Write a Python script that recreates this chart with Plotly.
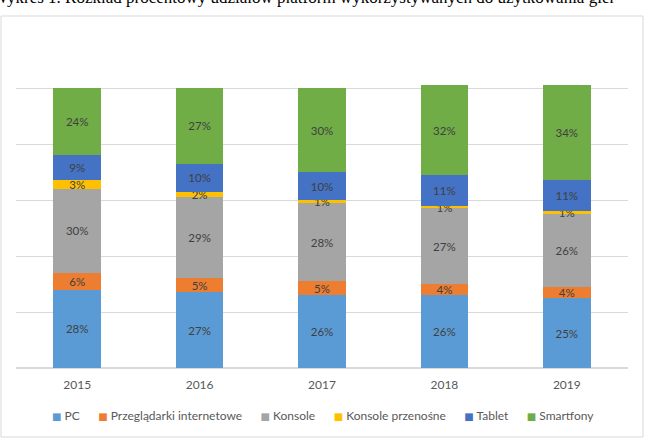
import plotly.graph_objects as go

years = ["2015", "2016", "2017", "2018", "2019"]
pc = [28, 27, 26, 26, 25]
przegladarki = [6, 5, 5, 4, 4]
konsole = [30, 29, 28, 27, 26]
konsole_przenosne = [3, 2, 1, 1, 1]
tablet = [9, 10, 10, 11, 11]
smartfony = [24, 27, 30, 32, 34]

series_names = ["PC", "Przeglądarki internetowe", "Konsole", "Konsole przenośne", "Tablet", "Smartfony"]
series_values = [pc, przegladarki, konsole, konsole_przenosne, tablet, smartfony]
series_colors = ["#5B9BD5", "#ED7D31", "#A5A5A5", "#FFC000", "#4472C4", "#70AD47"]

FONT = "Lato, 'Open Sans', sans-serif"

fig = go.Figure()
for name, vals, col in zip(series_names, series_values, series_colors):
    fig.add_trace(go.Bar(
        x=years, y=vals, name=name,
        marker=dict(color=col, line=dict(width=0)),
        text=[f"{v}%" for v in vals],
        textposition="inside", insidetextanchor="middle",
        textangle=0, constraintext="none",
        textfont=dict(family=FONT, size=11.5, color="#404040"),
        hoverinfo="skip",
    ))

L, R, T, B = 16, 18, 32, 79
W, H = 646, 447
pw, ph = W - L - R, H - T - B

def px(x):
    return (x - L) / pw

def py(y):
    return (H - B - y) / ph

gap = "&nbsp;" * 6
legend_text = gap.join(
    f"<span style='color:{c}; font-family:DejaVu Sans; font-size:10px'>■</span>&nbsp;{n}"
    for n, c in zip(series_names, series_colors)
)

fig.update_layout(
    width=W, height=H,
    margin=dict(l=L, r=R, t=T, b=B, autoexpand=False),
    barmode="stack", bargap=0.61,
    plot_bgcolor="white", paper_bgcolor="white",
    font=dict(family=FONT, color="#595959", size=12),
    xaxis=dict(showgrid=False, showline=False, ticks="", ticklabelstandoff=8,
               tickfont=dict(family=FONT, size=12, color="#595959"), fixedrange=True),
    yaxis=dict(range=[0, 120], dtick=20, showticklabels=False, gridcolor="#D9D9D9",
               gridwidth=1, zeroline=True, zerolinecolor="#D9D9D9", fixedrange=True),
    showlegend=False,
    shapes=[dict(type="rect", xref="paper", yref="paper",
                 x0=px(1), x1=px(643), y0=py(437), y1=py(16),
                 line=dict(color="#D9D9D9", width=1), fillcolor="rgba(0,0,0,0)", layer="below")],
    annotations=[
        dict(text="Wykres 1. Rozkład procentowy udziałów platform wykorzystywanych do użytkowania gier",
             xref="paper", yref="paper", x=px(-10), y=py(-2), xanchor="left", yanchor="middle",
             showarrow=False,
             font=dict(family="'Liberation Serif', 'Times New Roman', serif", size=17, color="#000000")),
        dict(text=legend_text, xref="paper", yref="paper", x=px(323), y=py(415),
             xanchor="center", yanchor="middle", showarrow=False,
             font=dict(family=FONT, size=12, color="#595959")),
    ],
)

fig.write_html("out.html", config={"displayModeBar": False},
               post_script="document.body.style.margin='0';document.body.style.overflow='hidden';")
